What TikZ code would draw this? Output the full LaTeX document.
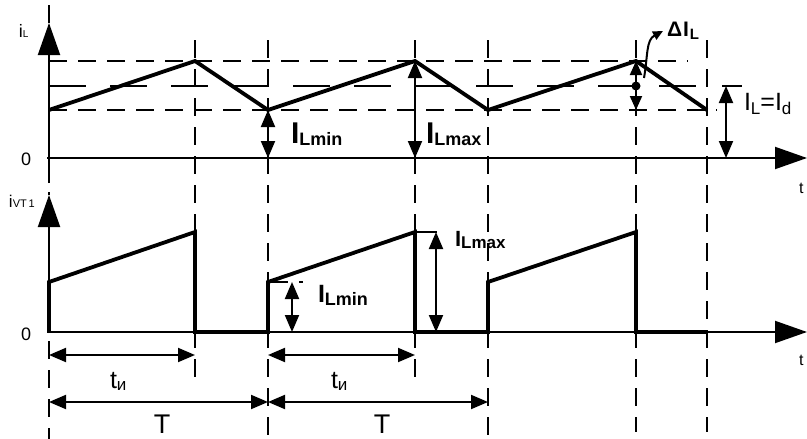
\documentclass[tikz,border=0pt]{standalone}
\usepackage{fontspec}
\setmainfont{Liberation Sans}
\usetikzlibrary{arrows.meta}
\begin{document}
\begin{tikzpicture}[x=1pt,y=-1pt,
  wave/.style={line width=3.8pt,line join=miter},
  axis/.style={line width=2pt},
  axarrow/.style={line width=2pt,-{Triangle[length=32pt,width=22pt]}},
  grid/.style={line width=2pt,dash pattern=on 18pt off 11pt},
  gridlong/.style={line width=2pt,dash pattern=on 37pt off 24pt},
  dim/.style={line width=2pt,{Triangle[length=17pt,width=14pt]}-{Triangle[length=17pt,width=14pt]}},
  dimsmall/.style={line width=2pt,{Triangle[length=14pt,width=12pt]}-{Triangle[length=14pt,width=12pt]}},
  lab/.style={anchor=base west,inner sep=0pt,outer sep=0pt}
]
\useasboundingbox (0,0) rectangle (807,439);
% ---------- key coordinates ----------
\coordinate (yaTop) at (49,5);
\coordinate (yaTip) at (49,23);
\coordinate (yaBot) at (49,183);
\coordinate (z1L) at (47,158);
\coordinate (z1R) at (807,158);
\coordinate (ybTip) at (49,195);
\coordinate (ybTop) at (49,192);
\coordinate (ybBot) at (49,333);
\coordinate (z2L) at (47,332);
\coordinate (z2R) at (807,332);

% ---------- dashed guide lines ----------
\foreach \x/\b in {195/380,268/439,415/382,488/439,636/432,707/432}{
  \draw[grid] (\x,40) -- (\x,\b);
}
\draw[grid] (49,341) -- (49,439);
\draw[grid] (49,61) -- (688,61);
\draw[gridlong] (49,86) -- (709,86);
\draw[grid] (49,110) -- (717,110);
\coordinate (ildTop) at (726,86);
\draw[axis] (722,86) -- (742,86);

% ---------- axes ----------
\draw[axarrow] (yaBot) -- (yaTip);
\draw[axis] (yaTip) -- (yaTop);
\draw[axarrow] (z1L) -- (z1R);
\draw[axarrow] (ybBot) -- (ybTip);
\draw[axis] (ybTip) -- (ybTop);
\draw[axarrow] (z2L) -- (z2R);

% ---------- upper waveform ----------
\coordinate (u0) at (49,110);
\coordinate (u1) at (195,61);
\coordinate (u2) at (268,110);
\coordinate (u3) at (415,61);
\coordinate (u4) at (488,110);
\coordinate (u5) at (636,61);
\coordinate (u6) at (707,110);
\draw[wave] (u0) -- (u1) -- (u2) -- (u3) -- (u4) -- (u5) -- (u6);

% ---------- lower waveform ----------
\draw[wave] (49,332) -- (49,282) -- (195,232) -- (195,332) -- (268,332)
  -- (268,282) -- (415,232) -- (415,332) -- (488,332)
  -- (488,282) -- (636,232) -- (636,332) -- (707,332);

% ---------- dimension arrows, upper ----------
\coordinate (u2z) at (268,158);
\coordinate (u3z) at (415,158);
\coordinate (ildBot) at (726,158);
\draw[dim] (u2) -- (u2z);
\draw[dim] (u3) -- (u3z);
\draw[dim] (ildTop) -- (ildBot);
\coordinate (dTop) at (636,61);
\coordinate (dBot) at (636,110);
\coordinate (dMid) at (636,86);
\draw[dimsmall] (dTop) -- (dBot);
\fill (dMid) circle (4.5pt);
\coordinate (cS) at (644,78);
\coordinate (cE) at (663,31);
\draw[line width=2pt,-{Triangle[length=10pt,width=9pt]}] (cS) .. controls (648,55) and (646,40) .. (cE);

% ---------- dimension arrows, lower ----------
\draw[axis] (268,282) -- (288,282);
\draw[axis] (299,282) -- (303,282);
\coordinate (lminT) at (292,282);
\coordinate (lminB) at (292,332);
\draw[dim] (lminT) -- (lminB);
\draw[axis] (415,232) -- (437,232);
\coordinate (lmaxT) at (436,232);
\coordinate (lmaxB) at (436,332);
\draw[dim] (lmaxT) -- (lmaxB);

% ---------- time arrows ----------
\coordinate (a0) at (49,355);
\coordinate (a1) at (195,355);
\coordinate (a2) at (268,355);
\coordinate (a3) at (415,355);
\coordinate (b0) at (49,402);
\coordinate (b1) at (268,402);
\coordinate (b2) at (488,402);
\draw[dim] (a0) -- (a1);
\draw[dim] (a2) -- (a3);
\draw[dim] (b0) -- (b1);
\draw[dim] (b1) -- (b2);

% ---------- labels ----------
\node[lab] (iL) at (19,37) {\fontsize{18}{18}\selectfont i\fontsize{10}{10}\selectfont L};
\node[lab] (zero1) at (21,165) {\fontsize{18}{18}\selectfont 0};
\node[lab] (t1) at (799,193) {\fontsize{16}{16}\selectfont t};
\node[lab] (iVT) at (9,207) {\fontsize{17}{17}\selectfont i\fontsize{11}{11}\selectfont VT\,1};
\node[lab] (zero2) at (21,340) {\fontsize{18}{18}\selectfont 0};
\node[lab] (t2) at (799,365) {\fontsize{16}{16}\selectfont t};

\node[lab] (ILmin1) at (291,143) {\fontsize{30}{30}\selectfont\bfseries I\raisebox{-2pt}{\fontsize{18}{18}\selectfont Lmin}};
\node[lab] (ILmax1) at (426,143) {\fontsize{30}{30}\selectfont\bfseries I\raisebox{-2pt}{\fontsize{18}{18}\selectfont Lmax}};
\node[lab] (dIL) at (667,36) {\fontsize{21}{21}\selectfont\bfseries Δ\kern1pt I\kern1pt\raisebox{-3pt}{\fontsize{15}{15}\selectfont L}};
\node[lab] (ILId) at (744,110) {\fontsize{25}{25}\selectfont I\raisebox{-4pt}{\fontsize{17}{17}\selectfont L}=I\raisebox{-4pt}{\fontsize{17}{17}\selectfont d}};

\node[lab] (ILmin2) at (318,302) {\fontsize{25}{25}\selectfont\bfseries I\raisebox{-3pt}{\fontsize{18}{18}\selectfont Lmin}};
\node[lab] (ILmax2) at (455,246) {\fontsize{22}{22}\selectfont\bfseries I\raisebox{-2pt}{\fontsize{17}{17}\selectfont Lmax}};

\node[lab] (ti1) at (110,388) {\fontsize{25}{25}\selectfont t\raisebox{-2pt}{\fontsize{17}{17}\selectfont и}};
\node[lab] (ti2) at (331,388) {\fontsize{25}{25}\selectfont t\raisebox{-2pt}{\fontsize{17}{17}\selectfont и}};
\node[anchor=base,inner sep=0pt] (T1) at (162,433) {\fontsize{27}{27}\selectfont T};
\node[anchor=base,inner sep=0pt] (T2) at (382,433) {\fontsize{27}{27}\selectfont T};
\end{tikzpicture}
\end{document}
